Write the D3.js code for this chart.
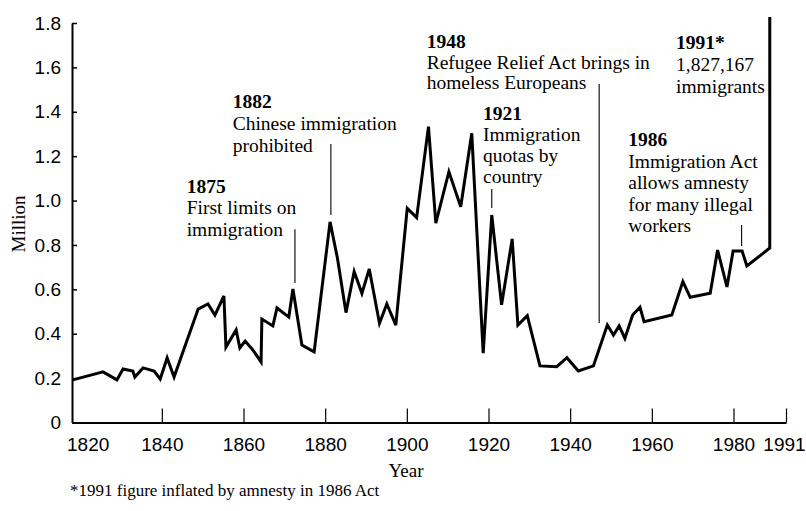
<!DOCTYPE html>
<html>
<head>
<meta charset="utf-8">
<script src="https://cdn.jsdelivr.net/npm/d3@7"></script>
<style>
  body { margin: 0; background: #fff; }
  svg { display: block; font-family: "Liberation Serif", "Times New Roman", serif; }
  .tick text { font-size: 19px; fill: #000; }
  .ann { font-size: 19.5px; fill: #000; }
  .ann .yr { font-weight: bold; }
</style>
</head>
<body>
<div id="chart"></div>
<script>
// Immigration to the US, millions per year
var years = [1818.2, 1825.6, 1829.0, 1830.5, 1832.9, 1833.4, 1835.4, 1838.1, 1839.6, 1841.3,
  1843.0, 1846.2, 1848.9, 1851.3, 1853.0, 1855.2, 1855.7, 1858.2, 1859.1, 1860.4,
  1862.3, 1864.3, 1864.5, 1867.2, 1868.2, 1871.1, 1872.1, 1874.3, 1877.3, 1881.2,
  1883.0, 1885.1, 1887.1, 1889.0, 1890.8, 1893.3, 1895.1, 1897.3, 1900.1, 1902.4,
  1905.3, 1907.1, 1910.3, 1913.2, 1915.9, 1918.7, 1920.8, 1923.2, 1925.8, 1927.2,
  1929.5, 1932.6, 1936.7, 1939.2, 1942.0, 1945.7, 1949.1, 1950.6, 1952.0, 1953.4,
  1955.3, 1957.1, 1958.1, 1964.9, 1967.6, 1969.4, 1974.3, 1976.1, 1978.4, 1979.9,
  1981.8, 1982.8, 1987.6, 1987.6];
var immigrants = [0.192, 0.228, 0.192, 0.241, 0.232, 0.205, 0.246, 0.232, 0.196, 0.291,
  0.205, 0.372, 0.511, 0.534, 0.484, 0.570, 0.340, 0.417, 0.336, 0.367,
  0.327, 0.273, 0.466, 0.435, 0.516, 0.475, 0.602, 0.349, 0.318, 0.904,
  0.741, 0.495, 0.680, 0.582, 0.692, 0.447, 0.534, 0.439, 0.965, 0.923,
  1.333, 0.898, 1.130, 0.972, 1.303, 0.312, 0.935, 0.530, 0.827, 0.439,
  0.481, 0.255, 0.251, 0.292, 0.232, 0.255, 0.439, 0.394, 0.435, 0.379,
  0.484, 0.519, 0.454, 0.484, 0.635, 0.564, 0.582, 0.777, 0.611, 0.773,
  0.773, 0.705, 0.786, 1.827];

var xTicks = [1820, 1840, 1860, 1880, 1900, 1920, 1940, 1960, 1980, 1991];
var yTicks = [0, 0.2, 0.4, 0.6, 0.8, 1.0, 1.2, 1.4, 1.6, 1.8];

// annotations: heading, text lines, leader line (year, top value, bottom value)
var annHeads = ["1875", "1882", "1948", "1921", "1986", "1991*"];
var annLines = [
  ["First limits on", "immigration"],
  ["Chinese immigration", "prohibited"],
  ["Refugee Relief Act brings in", "homeless Europeans"],
  ["Immigration", "quotas by", "country"],
  ["Immigration Act", "allows amnesty", "for many illegal", "workers"],
  ["1,827,167", "immigrants"]
];
var leaderYears = [1872.6, 1881.4, 1947.1, 1920.8, 1981.7];
var leaderTop = [0.871, 1.255, 1.525, 1.052, 0.89];
var leaderBottom = [0.628, 0.935, 0.448, 0.967, 0.795];

var svgWidth = 806;
var svgHeight = 511;

var svg = d3.select("#chart")
  .append("svg")
  .attr("width", svgWidth)
  .attr("height", svgHeight);

// the printed axis is a little squeezed after 1980
var xScale = d3.scaleLinear()
  .domain([1818, 1980, 1991])
  .range([72, 733.5, 786]);
var yScale = d3.scaleLinear()
  .domain([0, 1.8])
  .range([422.5, 23]);

// x axis, ticks point inward
var xAxis = svg.append("g")
  .attr("transform", "translate(0, 422.5)")
  .call(d3.axisBottom(xScale)
    .tickValues(xTicks)
    .tickFormat(d3.format("d"))
    .tickSize(-14)
    .tickSizeOuter(0)
    .tickPadding(15));
xAxis.select(".domain").attr("stroke-width", 2);
xAxis.selectAll(".tick line").attr("stroke-width", 1.2);
// no tick mark at 1820, label nudged right; last label kept inside the page
xAxis.selectAll(".tick").filter(d => d === 1820).select("line").remove();
xAxis.selectAll(".tick").filter(d => d === 1820).select("text").attr("dx", 7.5);
xAxis.selectAll(".tick").filter(d => d === 1991).select("text").attr("dx", -2);

// y axis
var yAxis = svg.append("g")
  .attr("transform", "translate(72, 0)")
  .call(d3.axisLeft(yScale)
    .tickValues(yTicks)
    .tickFormat(d => d === 0 ? "0" : d3.format(".1f")(d))
    .tickSize(-5)
    .tickSizeOuter(0)
    .tickPadding(11));
yAxis.select(".domain").attr("stroke-width", 2);
yAxis.selectAll(".tick line").attr("stroke-width", 1.5);

// axis titles
svg.append("text")
  .attr("x", 406)
  .attr("y", 477)
  .attr("text-anchor", "middle")
  .style("font-size", "19px")
  .text("Year");

svg.append("text")
  .attr("transform", "translate(25, 224) rotate(-90)")
  .attr("text-anchor", "middle")
  .style("font-size", "19px")
  .text("Million");

// footnote
svg.append("text")
  .attr("x", 70)
  .attr("y", 496)
  .style("font-size", "17px")
  .text("*1991 figure inflated by amnesty in 1986 Act");

// leader lines
svg.selectAll(".leader")
  .data(leaderYears)
  .enter()
  .append("line")
  .attr("class", "leader")
  .attr("x1", d => xScale(d))
  .attr("x2", d => xScale(d))
  .attr("y1", (d, i) => yScale(leaderTop[i]))
  .attr("y2", (d, i) => yScale(leaderBottom[i]))
  .attr("stroke", "#000")
  .attr("stroke-width", 1.1);

// the series line
var points = years.map((y, i) => [y, immigrants[i]]);
var line = d3.line()
  .x(d => xScale(d[0]))
  .y(d => yScale(d[1]));
svg.append("path")
  .datum(points)
  .attr("d", line)
  .attr("fill", "none")
  .attr("stroke", "#000")
  .attr("stroke-width", 3)
  .attr("stroke-linejoin", "miter");

// annotation text blocks (left x, first baseline, line gap)
var annPos = [[186.7, 193, 21.3], [232.7, 108.3, 21.7], [426.7, 48, 20.5],
  [483, 120, 21], [628.3, 146, 21.5], [676, 49.3, 21.7]];

annHeads.forEach(function(head, i) {
  var t = svg.append("text")
    .attr("class", "ann")
    .attr("x", annPos[i][0])
    .attr("y", annPos[i][1]);
  t.append("tspan").attr("class", "yr").text(head);
  annLines[i].forEach(function(s) {
    t.append("tspan")
      .attr("x", annPos[i][0])
      .attr("dy", annPos[i][2])
      .text(s);
  });
});
</script>
</body>
</html>
